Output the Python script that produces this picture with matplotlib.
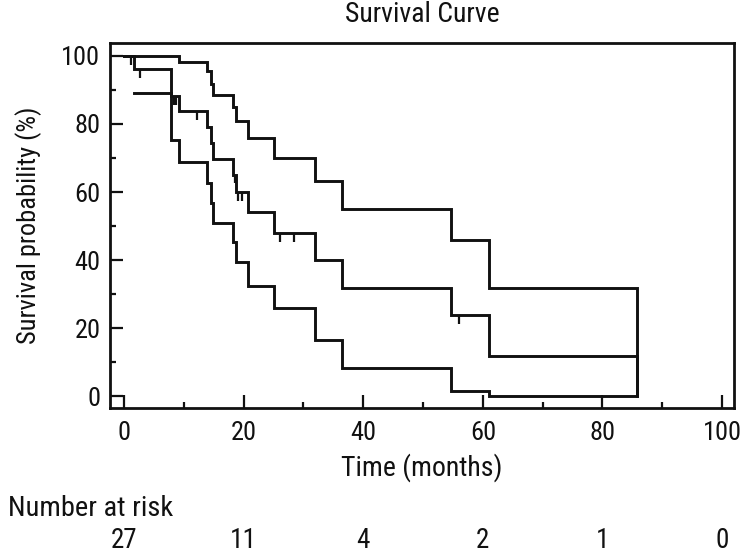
import numpy as np
import matplotlib
matplotlib.use("Agg")
import matplotlib.pyplot as plt
from matplotlib.ticker import MultipleLocator
import matplotlib.transforms as mtransforms

plt.rcParams['font.family'] = ['Roboto Condensed', 'Liberation Sans', 'DejaVu Sans']

# Kaplan-Meier estimate (step points, months / %)
km_time = [0, 1.7, 7.9, 9.2, 13.9, 14.5, 14.9, 18.3, 18.8, 20.8, 25.1, 32.0, 36.5, 54.6, 61.0, 85.7]
km_surv = [100, 96.2, 88.1, 83.7, 79.0, 74.4, 69.8, 65.1, 60.1, 54.0, 48.0, 39.9, 31.8, 23.7, 11.8, 0]

# Upper confidence limit
up_time = [0, 9.2, 13.9, 14.5, 14.9, 18.3, 18.8, 20.8, 25.1, 32.0, 36.5, 54.6, 61.0, 85.7]
up_surv = [100, 98.2, 95.5, 91.8, 88.6, 85.1, 80.8, 75.8, 70.1, 63.1, 55.1, 46.0, 31.7, 0]

# Lower confidence limit
lo_time = [1.7, 7.9, 9.2, 13.9, 14.5, 14.9, 18.3, 18.8, 20.8, 25.1, 32.0, 36.5, 54.6, 61.0, 85.7]
lo_surv = [89.0, 75.4, 68.9, 62.6, 56.7, 50.8, 45.4, 39.5, 32.4, 25.8, 16.4, 8.3, 1.5, 0, 0]

# Censored observations (months)
censor_time = [1.1, 2.6, 8.4, 8.7, 12.2, 18.5, 19.1, 19.8, 26.1, 28.4, 56.1]

# Number at risk table
risk_time = [0, 20, 40, 60, 80, 100]
risk_n = [27, 11, 4, 2, 1, 0]

fig = plt.figure(figsize=(7.5, 5.57), dpi=100)
ax = fig.add_axes([110/750, 1-408.3/557, (734-110)/750, (408.3-42.7)/557])

lw = 2.1
col = '#111111'
ax.step(km_time, km_surv, where='post', color=col, lw=lw, solid_joinstyle='miter')
ax.step(up_time, up_surv, where='post', color=col, lw=lw, solid_joinstyle='miter')
ax.step(lo_time, lo_surv, where='post', color=col, lw=lw, solid_joinstyle='miter')

# censor marks hanging below the KM curve
km_t = np.array(km_time)
km_s = np.array(km_surv)
idx = np.searchsorted(km_t, censor_time, side='right') - 1
cy = km_s[idx]
ax.vlines(censor_time, cy - 2.6, cy, color=col, lw=1.6)

ax.set_xlim(-2.34, 102.0)
ax.set_ylim(-3.6, 103.9)

ax.xaxis.set_major_locator(MultipleLocator(20))
ax.xaxis.set_minor_locator(MultipleLocator(10))
ax.yaxis.set_major_locator(MultipleLocator(20))
ax.yaxis.set_minor_locator(MultipleLocator(10))

fs_tick = 19
fs_lab = 20
ax.tick_params(axis='both', which='both', direction='in', colors=col, width=1.6,
               top=False, right=False)
ax.tick_params(axis='both', which='major', length=9.5, labelsize=fs_tick)
ax.tick_params(axis='both', which='minor', length=4.5)
ax.tick_params(axis='x', which='major', pad=9.5)
ax.tick_params(axis='y', which='major', pad=7)

for s in ax.spines.values():
    s.set_linewidth(2.0)
    s.set_color(col)

ax.set_xlabel('Time (months)', fontsize=fs_lab, color=col, va='center')
ax.xaxis.set_label_coords(0.5, (408.3-468)/365.6)
ax.set_ylabel('Survival probability (%)', fontsize=19, color=col, va='center')
ax.yaxis.set_label_coords((29-110)/624, 0.5)

fig.text((110+734)/2/750, 1-14/557, 'Survival Curve', fontsize=fs_lab, color=col,
         ha='center', va='center')

fig.text(8/750, 1-509/557, 'Number at risk', fontsize=20.5, color=col,
         ha='left', va='center')
trans = mtransforms.blended_transform_factory(ax.transData, fig.transFigure)
for t, n in zip(risk_time, risk_n):
    ax.text(t, 1-540/557, str(n), transform=trans, fontsize=19.5, color=col,
            ha='center', va='center', clip_on=False)

fig.savefig('out.png', dpi=100)
